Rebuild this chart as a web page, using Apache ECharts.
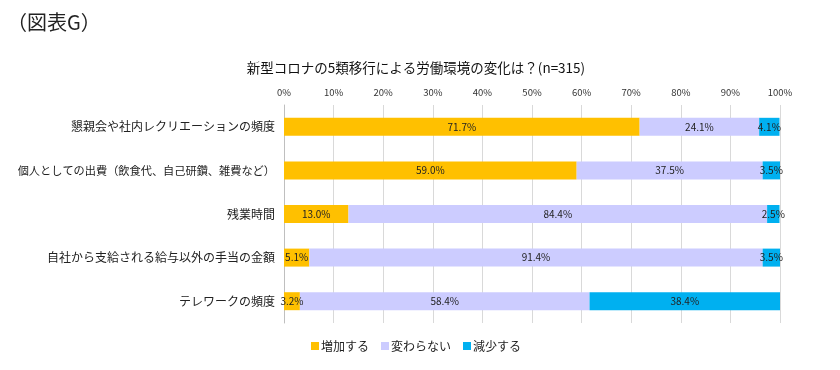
<!DOCTYPE html>
<html><head><meta charset="utf-8">
<script src="https://cdn.jsdelivr.net/npm/echarts@6/dist/echarts.min.js"></script>
<style>html,body{margin:0;padding:0;background:#fff}#c{width:840px;height:370px}</style>
</head><body><div id="c"></div>
<script>
const categories = ['懇親会や社内レクリエーションの頻度','個人としての出費（飲食代、自己研鑽、雑費など）','残業時間','自社から支給される給与以外の手当の金額','テレワークの頻度'];
const seriesNames = ['増加する','変わらない','減少する'];
const increase = [71.7, 59.0, 13.0, 5.1, 3.2];
const unchanged = [24.1, 37.5, 84.4, 91.4, 58.4];
const decrease = [4.1, 3.5, 2.5, 3.5, 38.4];
const xTicks = [0,10,20,30,40,50,60,70,80,90,100];

const font = '"Noto Sans CJK JP", "Noto Sans", sans-serif';
const colors = ['#FFC000', '#CCCCFF', '#00B0F0'];
const chart = echarts.init(document.getElementById('c'));
const mk = (name, data, i) => ({
  name, type: 'bar', stack: 's', data, barWidth: 18,
  itemStyle: { color: colors[i] },
  label: { show: true, position: 'inside', formatter: p => p.value.toFixed(1) + '%', fontSize: 10, color: '#222', fontFamily: font },
  emphasis: { disabled: true }
});
const catData = categories.map(c => c.length > 20 ? { value: c, textStyle: { fontSize: 11.2 } } : c);
chart.setOption({
  animation: false,
  textStyle: { fontFamily: font },
  title: [
    { text: '（図表G）', left: 2, top: 7, textStyle: { fontSize: 20, fontWeight: 'normal', color: '#222', fontFamily: font } },
    { text: '新型コロナの5類移行による労働環境の変化は？(n=315)', left: 411, top: 56, textAlign: 'center', textStyle: { fontSize: 13.5, fontWeight: 'normal', color: '#111', fontFamily: font } }
  ],
  legend: {
    data: seriesNames, left: 306, top: 335, itemWidth: 8, itemHeight: 8, itemGap: 12, icon: 'rect',
    textStyle: { fontSize: 12, color: '#222', fontFamily: font, padding: [0,0,0,-3] }
  },
  grid: { left: 284, right: 60, top: 105, bottom: 47, containLabel: false, outerBoundsMode: 'none' },
  xAxis: {
    type: 'value', position: 'top', min: 0, max: 100, interval: 10,
    axisLabel: { formatter: v => v + '%', fontSize: 9.5, color: '#333', margin: 8 },
    axisLine: { show: false }, axisTick: { show: false },
    splitLine: { show: true, lineStyle: { color: '#d9d9d9' } }
  },
  yAxis: {
    type: 'category', data: catData, inverse: true,
    axisLabel: { fontSize: 12, color: '#222', margin: 9 },
    axisLine: { show: true, lineStyle: { color: '#bfbfbf' } },
    axisTick: { show: false }
  },
  series: [mk(seriesNames[0], increase, 0), mk(seriesNames[1], unchanged, 1), mk(seriesNames[2], decrease, 2)]
});
</script></body></html>
